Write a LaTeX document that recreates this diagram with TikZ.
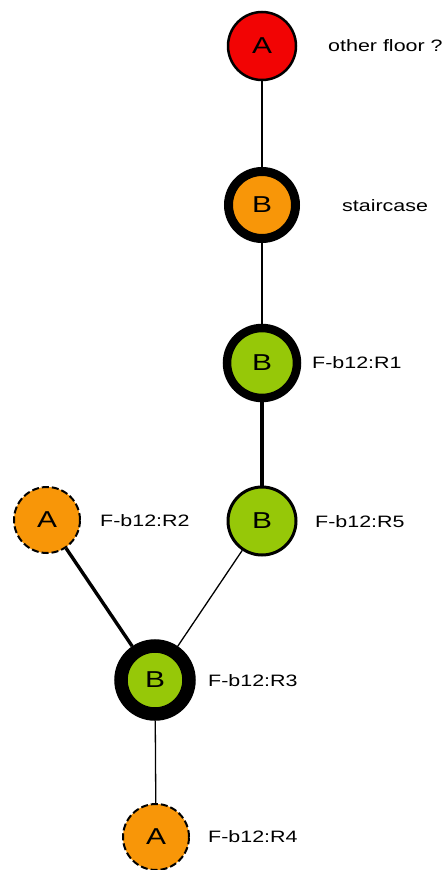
\documentclass[tikz,border=0pt]{standalone}
\usepackage{fontspec}
\setmainfont{Liberation Sans}[FakeStretch=1.3]
\usepackage{tikz}
\definecolor{roomred}{RGB}{242,4,4}
\definecolor{roomorange}{RGB}{248,150,8}
\definecolor{roomgreen}{RGB}{150,200,8}
\tikzset{
  room/.style={circle,draw=black,minimum size=68pt,inner sep=0pt,font=\fontsize{23}{23}\selectfont},
  guess/.style={room,fill=roomorange,line width=2pt,dash pattern=on 7pt off 3pt,minimum size=66pt},
  roomlabel/.style={anchor=west,inner sep=0pt,font=\fontsize{16.5}{16.5}\selectfont},
  link/.style={line width=1.3pt},
  hardlink/.style={line width=3.4pt}
}

\begin{document}
\begin{tikzpicture}[x=1pt,y=-1pt]
  \useasboundingbox (0,0) rectangle (445,870);
  % rooms
  \node[room,fill=roomred,line width=2.5pt] (floor) at (262,46) {A};
  \node[room,fill=roomorange,line width=9pt,minimum size=67pt] (stair) at (262,205) {B};
  \node[room,fill=roomgreen,line width=8.5pt,minimum size=70pt] (rone) at (262,363) {B};
  \node[room,fill=roomgreen,line width=3pt] (rfive) at (262,521) {B};
  \node[guess] (rtwo) at (47,520) {A};
  \node[room,fill=roomgreen,line width=13.5pt] (rthree) at (155,680) {B};
  \node[guess] (rfour) at (156,837) {A};
  % labels
  \node[roomlabel] (lfloor) at (328,46) {other floor ?};
  \node[roomlabel] (lstair) at (342,206) {staircase};
  \foreach \nm/\x/\y/\txt in {lone/312/363/R1, lfive/315/522/R5, ltwo/100/521/R2,
                              lthree/208/681/R3, lfour/208/837/R4}{
    \node[roomlabel] (\nm) at (\x,\y) {F-b12:\txt};
  }
  % connections
  \draw[link] (floor) -- (stair);
  \draw[link] (stair) -- (rone);
  \draw[hardlink] (rone) -- (rfive);
  \draw[link] (rfive) -- (rthree);
  \draw[hardlink] (rtwo) -- (rthree);
  \draw[link] (rthree) -- (rfour);
\end{tikzpicture}
\end{document}
